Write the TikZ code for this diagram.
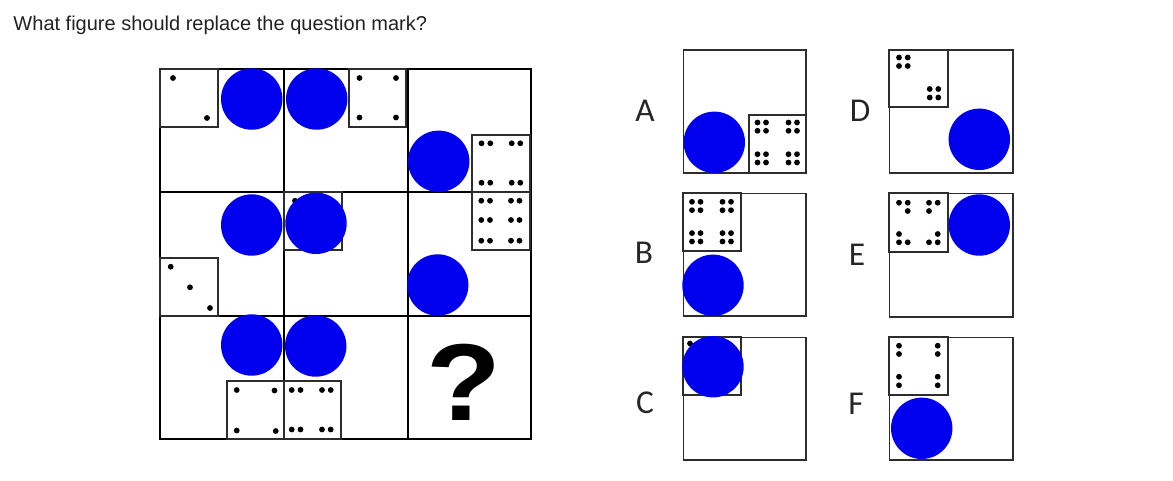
\documentclass[tikz,border=0pt]{standalone}
\usepackage{fontspec}
\setmainfont{Liberation Sans}
\newfontfamily\labelfont{Carlito}
\definecolor{ballblue}{RGB}{0,0,238}
\definecolor{boxgray}{RGB}{45,45,45}
\definecolor{titlegray}{RGB}{34,34,34}

\tikzset{every picture/.style={line width=0.75pt}}
\tikzset{
  cellbox/.style={draw=black, line width=1.5pt},
  optbox/.style={draw=boxgray, line width=1.2pt},
  diebox/.style={draw=boxgray, line width=1.3pt},
  pip/.style={fill=black},
  ball/.style={fill=ballblue},
  optlabel/.style={anchor=base, inner sep=0.75pt, font=\labelfont\fontsize{25}{25}\selectfont, text=black!85},
}

\begin{document}
\begin{tikzpicture}[x=0.75pt,y=0.75pt,yscale=-1,xscale=1]
    \useasboundingbox (0,0) rectangle (1173,480);

    % Text Node
    \node (title) at (13,30) [anchor=base west, inner sep=0pt, text=titlegray, font=\fontsize{15}{18}\selectfont] {What figure should replace the question mark?};

    %Grid
    \draw[cellbox] (160,69) rectangle (531,439);
    \draw[cellbox] (284,69) -- (284,439);
    \draw[cellbox] (408,69) -- (408,439);
    \draw[cellbox] (160,192) -- (531,192);
    \draw[cellbox] (160,316) -- (531,316);

    %Row 1, left
    \draw[diebox] (160,69) rectangle (218,127);
    \fill[pip] (173,78) circle (2.9) (207,118) circle (2.9);
    \fill[ball] (251.7,99) circle (30.7);

    %Row 1, middle
    \draw[diebox] (349,69) rectangle (406,127);
    \fill[pip] (359.5,78) circle (2.9) (396,78) circle (2.9) (359.5,117.5) circle (2.9) (396,117.5) circle (2.9);
    \fill[ball] (316.7,99) circle (30.7);

    %Row 1, right
    \draw[diebox] (472,135) rectangle (530,192);
    \fill[pip] (481.5,143.3) circle (2.9) (490.3,143.3) circle (2.9) (511.7,143.3) circle (2.9) (520.3,143.3) circle (2.9)
               (481.5,182.7) circle (2.9) (490.3,182.7) circle (2.9) (511.7,182.7) circle (2.9) (520.3,182.7) circle (2.9);
    \fill[ball] (438.7,161.3) circle (30.7);

    %Row 2, left
    \draw[diebox] (160,258) rectangle (218.3,316);
    \fill[pip] (170.7,266.7) circle (2.9) (190,287.3) circle (2.9) (210,308) circle (2.9);
    \fill[ball] (251.7,225) circle (30.7);

    %Row 2, middle
    \draw[diebox] (284,192) rectangle (342.3,250);
    \fill[pip] (295,200.7) circle (2.9);
    \fill[ball] (316,223.3) circle (30.7);

    %Row 2, right
    \draw[diebox] (472,192) rectangle (530,250);
    \fill[pip] (481.3,200.7) circle (2.9) (490,200.7) circle (2.9) (511,200.7) circle (2.9) (519.5,200.7) circle (2.9)
               (481.3,220) circle (2.9) (490,220) circle (2.9) (511,220) circle (2.9) (519.5,220) circle (2.9)
               (481.3,240.7) circle (2.9) (490,240.7) circle (2.9) (511,240.7) circle (2.9) (519.5,240.7) circle (2.9);
    \fill[ball] (437.7,285) circle (30.7);

    %Row 3, left
    \draw[diebox] (226.7,381) rectangle (284,439);
    \fill[pip] (236.7,390) circle (2.9) (274.5,390.5) circle (2.9) (236.7,430.5) circle (2.9) (275.7,431) circle (2.9);
    \fill[ball] (251.7,345) circle (30.7);

    %Row 3, middle
    \draw[diebox] (284,381) rectangle (340.7,439);
    \fill[pip] (291.7,390) circle (2.9) (300.5,390) circle (2.9) (322,390) circle (2.9) (330.7,390) circle (2.9)
               (291.7,429.5) circle (2.9) (300.5,429.5) circle (2.9) (322,429.5) circle (2.9) (330.7,429.5) circle (2.9);
    \fill[ball] (315.7,346) circle (30.7);

    %Row 3, right
    \node (qmark) at (463.5,382) [inner sep=0pt, font=\bfseries\fontsize{82}{82}\selectfont, xscale=1.12] {?};

    %Option A
    \node (labA) at (645,121.7) [optlabel] {A};
    \draw[optbox] (683.3,50) rectangle (806,172.7);
    \draw[diebox] (749,114.7) rectangle (806,172.7);
    \fill[pip] (757.5,122.5) circle (2.9) (766,122.5) circle (2.9) (757.5,130.8) circle (2.9) (766,130.8) circle (2.9)
               (788.5,122.5) circle (2.9) (797,122.5) circle (2.9) (788.5,130.8) circle (2.9) (797,130.8) circle (2.9)
               (757.5,154.2) circle (2.9) (766,154.2) circle (2.9) (757.5,162.5) circle (2.9) (766,162.5) circle (2.9)
               (788.5,154.2) circle (2.9) (797,154.2) circle (2.9) (788.5,162.5) circle (2.9) (797,162.5) circle (2.9);
    \fill[ball] (714.3,142.3) circle (30.7);

    %Option B
    \node (labB) at (644,263.3) [optlabel] {B};
    \draw[optbox] (683.3,193.3) rectangle (806,316);
    \draw[diebox] (683.3,193.3) rectangle (741,251);
    \fill[pip] (692,201.8) circle (2.9) (700.5,201.8) circle (2.9) (692,210.2) circle (2.9) (700.5,210.2) circle (2.9)
               (722.5,201.8) circle (2.9) (731,201.8) circle (2.9) (722.5,210.2) circle (2.9) (731,210.2) circle (2.9)
               (692,233.1) circle (2.9) (700.5,233.1) circle (2.9) (692,241.5) circle (2.9) (700.5,241.5) circle (2.9)
               (722.5,233.1) circle (2.9) (731,233.1) circle (2.9) (722.5,241.5) circle (2.9) (731,241.5) circle (2.9);
    \fill[ball] (713,285.3) circle (30.7);

    %Option C
    \node (labC) at (645,413.5) [optlabel] {C};
    \draw[optbox] (683.3,337.3) rectangle (806,460);
    \draw[diebox] (683.3,337.3) rectangle (741,395);
    \fill[pip] (690,343.5) circle (2.9);
    \fill[ball] (713,366.7) circle (30.7);

    %Option D
    \node (labD) at (860,121) [optlabel] {D};
    \draw[optbox] (889.3,50) rectangle (1012.7,172.7);
    \draw[diebox] (889.3,50) rectangle (948.3,107.3);
    \fill[pip] (899,57.5) circle (2.9) (907.7,57.5) circle (2.9) (899,66) circle (2.9) (907.7,66) circle (2.9)
               (929.7,89) circle (2.9) (938.3,89) circle (2.9) (929.7,97.5) circle (2.9) (938.3,97.5) circle (2.9);
    \fill[ball] (979.3,139.3) circle (30.7);

    %Option E
    \node (labE) at (857,265) [optlabel] {E};
    \draw[optbox] (889.3,193.3) rectangle (1012.7,316.7);
    \draw[diebox] (889.3,193.3) rectangle (948.3,251.7);
    \fill[pip] (899,202.7) circle (2.9) (907.7,202.7) circle (2.9) (907.7,211) circle (2.9)
               (929,202.7) circle (2.9) (937.7,202.7) circle (2.9) (929,211) circle (2.9)
               (899,234) circle (2.9) (899,242.3) circle (2.9) (907.7,242.3) circle (2.9)
               (937.7,234) circle (2.9) (929,242.3) circle (2.9) (937.7,242.3) circle (2.9);
    \fill[ball] (979.3,225) circle (30.7);

    %Option F
    \node (labF) at (856,414) [optlabel] {F};
    \draw[optbox] (889.3,337.3) rectangle (1012.7,460);
    \draw[diebox] (889.3,337.3) rectangle (948.3,395);
    \fill[pip] (899,345.7) circle (2.9) (899,354) circle (2.9) (899,376.7) circle (2.9) (899,385.3) circle (2.9)
               (937.7,345.7) circle (2.9) (937.7,354) circle (2.9) (937.7,376.7) circle (2.9) (937.7,385.3) circle (2.9);
    \fill[ball] (921.7,428.3) circle (30.7);
  \end{tikzpicture}
\end{document}
